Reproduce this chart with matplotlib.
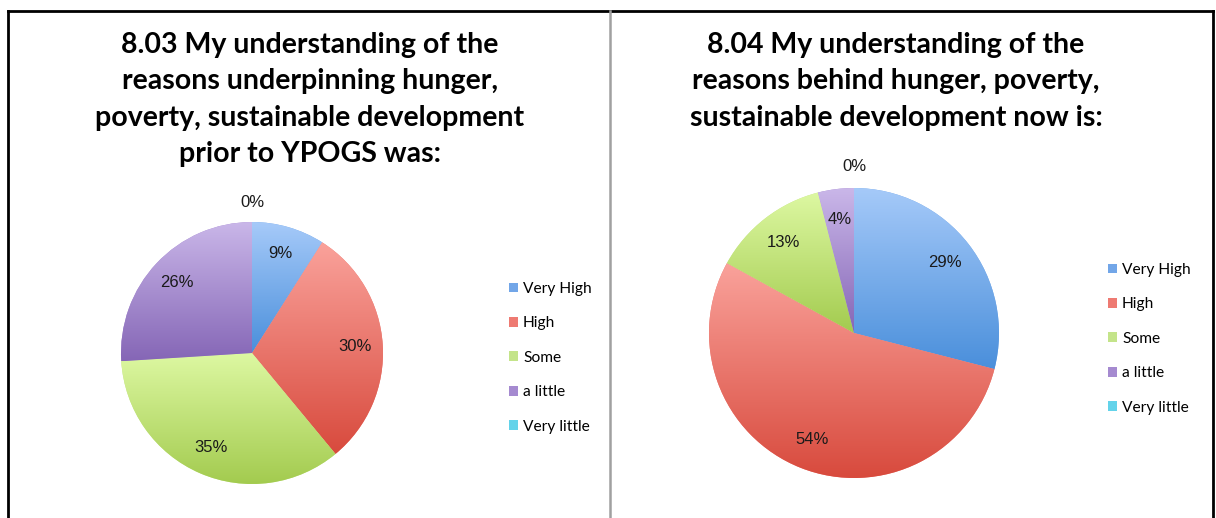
import matplotlib.pyplot as plt
import numpy as np
from matplotlib.colors import LinearSegmentedColormap
from matplotlib.lines import Line2D

# Дані
categories = ['Very High', 'High', 'Some', 'a little', 'Very little']
before_values = [9, 30, 35, 26, 0]
now_values = [29, 54, 13, 4, 0]

title_before = "8.03 My understanding of the\nreasons underpinning hunger,\npoverty, sustainable development\nprior to YPOGS was:"
title_now = "8.04 My understanding of the\nreasons behind hunger, poverty,\nsustainable development now is:"

# кольори: (світлий верх, темний низ, легенда)
light = ['#a6caf9', '#faa29b', '#ddf8a2', '#cab7e9', '#8ae3f3']
dark = ['#4a8fdb', '#d84a3d', '#a3cb4f', '#8566b6', '#3cc0dc']
mid = ['#72a6e8', '#ee7a72', '#c4e48a', '#a58ad0', '#63d3ea']

W, H = 1216, 518
fig = plt.figure(figsize=(W / 100, H / 100), dpi=100)
fig.patch.set_facecolor('white')


def px_axes(cx, cy, r):
    return fig.add_axes([(cx - r) / W, (H - cy - r) / H, 2 * r / W, 2 * r / H])


def draw_pie(ax, values):
    wedges, _ = ax.pie(values, colors=mid, startangle=90, counterclock=False,
                       radius=1, wedgeprops=dict(linewidth=0))
    for i, w in enumerate(wedges):
        if values[i] == 0:
            continue
        bb = w.get_path().get_extents()
        cmap = LinearSegmentedColormap.from_list('g', [dark[i], light[i]])
        grad = np.linspace(0, 1, 256).reshape(-1, 1)
        im = ax.imshow(grad, cmap=cmap, origin='lower', aspect='auto',
                       extent=[bb.x0, bb.x1, bb.y0, bb.y1], zorder=2)
        im.set_clip_path(w)
    # підписи відсотків
    for i, w in enumerate(wedges):
        ang = np.deg2rad((w.theta1 + w.theta2) / 2)
        d = 1.15 if values[i] == 0 else 0.79
        ax.text(d * np.cos(ang), d * np.sin(ang), f"{values[i]}%",
                ha='center', va='center', fontsize=12,
                family='Liberation Sans', color='#1a1a1a', zorder=5)
    ax.set_xlim(-1, 1)
    ax.set_ylim(-1, 1)
    ax.set_aspect('equal')
    ax.axis('off')
    return wedges


ax1 = px_axes(252, 353, 131)
w1 = draw_pie(ax1, before_values)
ax2 = px_axes(854, 333, 145)
w2 = draw_pie(ax2, now_values)

fig.text(310 / W, 1 - 32 / H, title_before, ha='center', va='top',
         fontsize=20.5, fontweight='bold', family='Lato', linespacing=1.49)
fig.text(896 / W, 1 - 32 / H, title_now, ha='center', va='top',
         fontsize=20.5, fontweight='bold', family='Lato', linespacing=1.49)

for wedges, x0, y0 in [(w1, 509, 282), (w2, 1108, 263)]:
    fig.legend(wedges, categories, loc='upper left',
               bbox_to_anchor=(x0 / W, 1 - y0 / H), frameon=False,
               prop={'family': 'Lato', 'size': 11.2}, handlelength=0.6,
               handleheight=0.6, handletextpad=0.3, labelspacing=1.31,
               borderaxespad=0, borderpad=0)

# рамки
fig.add_artist(Line2D([8 / W, 8 / W], [0, 1 - 11 / H], color='black', lw=2))
fig.add_artist(Line2D([8 / W, 1213 / W], [1 - 11 / H, 1 - 11 / H], color='black', lw=2))
fig.add_artist(Line2D([1213 / W, 1213 / W], [0, 1 - 11 / H], color='black', lw=2))
fig.add_artist(Line2D([610 / W, 610 / W], [0, 1 - 11 / H], color='#a0a0a0', lw=1.8))

fig.savefig('out.png', dpi=100)
